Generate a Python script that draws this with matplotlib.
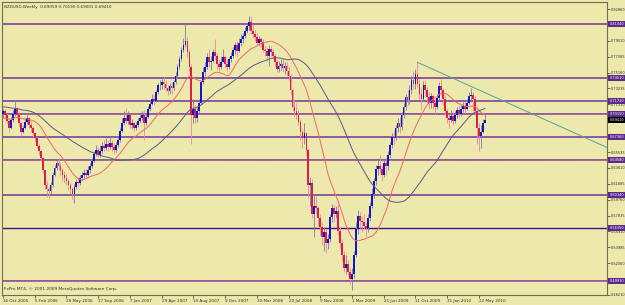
import numpy as np
import pandas as pd
import matplotlib.pyplot as plt

plt.rcParams["font.family"] = "DejaVu Sans"

# NZDUSD weekly bars starting 16 Oct 2005, prices in pips (x 1e-4)
opens = [
    7020, 7050, 7000, 6930, 6850, 6940, 7010, 7080, 7000, 6900, 6800, 6850,
    6920, 6960, 6880, 6840, 6780, 6720, 6630, 6560, 6480, 6330, 6150, 6100,
    6080, 6150, 6280, 6360, 6420, 6390, 6330, 6280, 6240, 6200, 6150, 6110,
    6050, 6130, 6190, 6180, 6240, 6270, 6300, 6280, 6340, 6380, 6440, 6530,
    6580, 6520, 6560, 6630, 6600, 6650, 6610, 6660, 6620, 6580, 6640, 6700,
    6810, 6900, 6970, 6930, 7000, 6880, 6900, 6850, 6880, 6930, 6960, 7000,
    6910, 6980, 7070, 7140, 7200, 7170, 7280, 7360, 7360, 7400, 7380, 7330,
    7290, 7350, 7330, 7400, 7470, 7580, 7680, 7790, 7850, 7900, 7760, 7580,
    7000, 7080, 6960, 7050, 7150, 7400, 7520, 7580, 7700, 7640, 7660, 7760,
    7720, 7620, 7580, 7650, 7700, 7620, 7580, 7680, 7720, 7790, 7850, 7780,
    7880, 7920, 7960, 8020, 8080, 8130, 8020, 7980, 7950, 7880, 7920, 7890,
    7790, 7780, 7720, 7800, 7760, 7720, 7640, 7560, 7600, 7620, 7570, 7600,
    7530, 7480, 7300, 7100, 7050, 7000, 6920, 6800, 6720, 6780, 6580, 6150,
    6180, 5800, 5900, 5870, 5750, 5650, 5520, 5580, 5450, 5500, 5760, 5880,
    5800, 5840, 5600, 5450, 5300, 5150, 5200, 5100, 5020, 5080, 5300, 5620,
    5780, 5720, 5700, 5660, 5630, 5750, 5900, 6050, 6200, 6350, 6380, 6350,
    6280, 6420, 6380, 6520, 6640, 6740, 6720, 6840, 6900, 6860, 7000, 7100,
    7220, 7180, 7300, 7430, 7380, 7500, 7380, 7260, 7200, 7360, 7300, 7220,
    7150, 7230, 7150, 7100, 7210, 7350, 7300, 7200, 7050, 6970, 6940, 6990,
    6930, 7000, 7060, 7020, 7080, 7110, 7080, 7150, 7230, 7240, 7200, 7050,
    6850, 6750, 6800, 6906,
]
highs = [
    7080, 7070, 7010, 6950, 6980, 7060, 7180, 7100, 7010, 6920, 6880, 6960,
    7000, 6980, 6930, 6870, 6800, 6730, 6650, 6580, 6490, 6340, 6200, 6130,
    6190, 6310, 6400, 6470, 6480, 6420, 6360, 6320, 6290, 6230, 6180, 6130,
    6160, 6230, 6250, 6270, 6310, 6350, 6350, 6380, 6420, 6480, 6570, 6640,
    6620, 6640, 6680, 6700, 6720, 6700, 6730, 6700, 6660, 6680, 6740, 6850,
    6960, 7050, 7090, 7050, 7010, 6950, 6930, 6920, 6970, 7000, 7050, 7060,
    7010, 7110, 7180, 7260, 7250, 7310, 7390, 7420, 7440, 7460, 7420, 7370,
    7390, 7400, 7430, 7520, 7620, 7720, 7830, 7930, 8110, 7950, 7800, 7620,
    7200, 7120, 7100, 7200, 7430, 7580, 7640, 7750, 7800, 7720, 7800, 7920,
    7750, 7680, 7720, 7800, 7730, 7680, 7710, 7760, 7830, 7890, 7900, 7930,
    7980, 8000, 8070, 8120, 8200, 8200, 8100, 8030, 8000, 7960, 7950, 7920,
    7840, 7820, 7850, 7840, 7800, 7740, 7680, 7660, 7680, 7680, 7650, 7640,
    7600, 7500, 7320, 7200, 7150, 7060, 6950, 6830, 6900, 6800, 6600, 6250,
    6230, 6050, 6020, 5900, 5800, 5700, 5640, 5620, 5560, 5800, 5920, 5910,
    5900, 5920, 5650, 5500, 5350, 5300, 5250, 5150, 5150, 5350, 5700, 5850,
    5830, 5780, 5800, 5700, 5800, 5950, 6120, 6240, 6400, 6460, 6520, 6400,
    6460, 6480, 6560, 6680, 6780, 6820, 6880, 6960, 6980, 7040, 7150, 7260,
    7300, 7360, 7480, 7540, 7560, 7640, 7440, 7330, 7410, 7420, 7340, 7280,
    7270, 7250, 7200, 7260, 7400, 7440, 7330, 7240, 7080, 7020, 7060, 7030,
    7050, 7100, 7120, 7120, 7160, 7170, 7200, 7280, 7330, 7280, 7230, 7080,
    6900, 6880, 6950, 7019,
]
lows = [
    6960, 6970, 6900, 6790, 6830, 6920, 6990, 6970, 6860, 6750, 6780, 6830,
    6890, 6850, 6800, 6740, 6680, 6600, 6520, 6450, 6300, 6100, 6010, 5990,
    6050, 6130, 6260, 6340, 6330, 6270, 6200, 6180, 6150, 6090, 6050, 5990,
    5930, 6100, 6130, 6150, 6200, 6240, 6230, 6260, 6300, 6360, 6430, 6500,
    6490, 6490, 6540, 6560, 6580, 6570, 6590, 6560, 6540, 6550, 6610, 6680,
    6790, 6880, 6900, 6890, 6850, 6830, 6810, 6820, 6860, 6900, 6940, 6700,
    6880, 6960, 7050, 7120, 7120, 7160, 7260, 7300, 7320, 7320, 7290, 7250,
    7260, 7260, 7300, 7380, 7450, 7560, 7660, 7760, 7830, 7700, 7520, 6650,
    6900, 6900, 6920, 7020, 7140, 7380, 7470, 7560, 7580, 7550, 7640, 7680,
    7560, 7530, 7560, 7640, 7570, 7540, 7560, 7640, 7690, 7740, 7700, 7760,
    7840, 7880, 7930, 7990, 8030, 7980, 7930, 7900, 7850, 7840, 7820, 7760,
    7720, 7660, 7600, 7720, 7680, 7580, 7520, 7520, 7550, 7520, 7500, 7480,
    7420, 7250, 7050, 6980, 6950, 6880, 6700, 6600, 6650, 6520, 6000, 5900,
    5750, 5520, 5800, 5660, 5550, 5430, 5350, 5330, 5380, 5460, 5700, 5700,
    5750, 5550, 5380, 5230, 5100, 5080, 5050, 4950, 4885, 5030, 5280, 5560,
    5620, 5580, 5620, 5530, 5580, 5720, 5880, 6000, 6150, 6280, 6300, 6200,
    6250, 6280, 6330, 6480, 6600, 6640, 6700, 6800, 6780, 6820, 6960, 7060,
    7120, 7140, 7260, 7320, 7320, 7340, 7200, 7060, 7170, 7250, 7120, 7080,
    7090, 7080, 7020, 7080, 7180, 7250, 7120, 7000, 6900, 6850, 6920, 6880,
    6900, 6960, 6980, 6990, 7040, 7030, 7060, 7130, 7180, 7050, 7000, 6650,
    6570, 6600, 6780, 6900,
]
closes = [
    7050, 7000, 6930, 6850, 6940, 7010, 7080, 7000, 6900, 6800, 6850, 6920,
    6960, 6880, 6840, 6780, 6720, 6630, 6560, 6480, 6330, 6150, 6100, 6080,
    6150, 6280, 6360, 6420, 6390, 6330, 6280, 6240, 6200, 6150, 6110, 6050,
    6130, 6190, 6180, 6240, 6270, 6300, 6280, 6340, 6380, 6440, 6530, 6580,
    6520, 6560, 6630, 6600, 6650, 6610, 6660, 6620, 6580, 6640, 6700, 6810,
    6900, 6970, 6930, 7000, 6880, 6900, 6850, 6880, 6930, 6960, 7000, 6910,
    6980, 7070, 7140, 7200, 7170, 7280, 7360, 7360, 7400, 7380, 7330, 7290,
    7350, 7330, 7400, 7470, 7580, 7680, 7790, 7850, 7900, 7760, 7580, 7000,
    7080, 6960, 7050, 7150, 7400, 7520, 7580, 7700, 7640, 7660, 7760, 7720,
    7620, 7580, 7650, 7700, 7620, 7580, 7680, 7720, 7790, 7850, 7780, 7880,
    7920, 7960, 8020, 8080, 8130, 8020, 7980, 7950, 7880, 7920, 7890, 7790,
    7780, 7720, 7800, 7760, 7720, 7640, 7560, 7600, 7620, 7570, 7600, 7530,
    7480, 7300, 7100, 7050, 7000, 6920, 6800, 6720, 6780, 6580, 6150, 6180,
    5800, 5900, 5870, 5750, 5650, 5520, 5580, 5450, 5500, 5760, 5880, 5800,
    5840, 5600, 5450, 5300, 5150, 5200, 5100, 5020, 5080, 5300, 5620, 5780,
    5720, 5700, 5660, 5630, 5750, 5900, 6050, 6200, 6350, 6380, 6350, 6280,
    6420, 6380, 6520, 6640, 6740, 6720, 6840, 6900, 6860, 7000, 7100, 7220,
    7180, 7300, 7430, 7380, 7500, 7380, 7260, 7200, 7360, 7300, 7220, 7150,
    7230, 7150, 7100, 7210, 7350, 7300, 7200, 7050, 6970, 6940, 6990, 6930,
    7000, 7060, 7020, 7080, 7110, 7080, 7150, 7230, 7240, 7200, 7050, 6850,
    6750, 6800, 6906, 6941,
]
# closes before the visible window (Nov 2004 - Oct 2005), only feed the MAs
warmup_closes = [
    7000, 7050, 7120, 7150, 7180, 7100, 7150, 7200, 7180, 7080, 7050, 7100,
    7130, 7150, 7220, 7250, 7300, 7380, 7420, 7350, 7250, 7200, 7280, 7250,
    7300, 7260, 7200, 7150, 7100, 7080, 7050, 7020, 7000, 6980, 6880, 6850,
    6920, 6900, 6980, 7000, 6950, 6920, 6980, 7020, 6950, 6920, 6980, 6960,
    7020,
]

date_bars = [0, 16, 32, 48, 64, 80, 96, 112, 128, 144, 160, 176, 192, 208, 224, 240]
date_labels = ["16 Oct 2005", "5 Feb 2006", "28 May 2006", "17 Sep 2006",
               "7 Jan 2007", "29 Apr 2007", "19 Aug 2007", "9 Dec 2007",
               "30 Mar 2008", "20 Jul 2008", "9 Nov 2008", "1 Mar 2009",
               "21 Jun 2009", "11 Oct 2009", "31 Jan 2010", "22 May 2010"]

price_ticks = [0.82860, 0.80935, 0.79010, 0.77085, 0.75160, 0.73235, 0.71310,
               0.69385, 0.67460, 0.65535, 0.63610, 0.61685, 0.59760, 0.57835,
               0.55910, 0.53985, 0.52060, 0.50135, 0.48210]

levels = [0.81040, 0.74510, 0.71720, 0.70150, 0.67360, 0.64580, 0.60340, 0.56350, 0.49930]
level_kind = ["p", "p", "p", "pink", "p", "pink", "p", "dark", "pink"]

trend_bars = [209, 305]
trend_prices = [0.7640, 0.6604]

last_price = 0.69410
header = "NZDUSD,Weekly  0.69059 0.70190 0.69001 0.69410"
footer = "FxPro MT4, \u00a9 2001-2009 MetaQuotes Software Corp."

BG = "#EDE8AC"
UP = "#1414C8"
DN = "#DC1E4A"
TXT = "#303030"

o = np.array(opens) / 1e4
h = np.array(highs) / 1e4
l = np.array(lows) / 1e4
c = np.array(closes) / 1e4
x = np.arange(len(c))

allc = pd.Series(warmup_closes + closes) / 1e4
ma20 = allc.rolling(20).mean().values[len(warmup_closes):]
ma50 = allc.rolling(50).mean().values[len(warmup_closes):]

fig = plt.figure(figsize=(6.25, 3.05), dpi=100)
fig.patch.set_facecolor(BG)
ax = fig.add_axes([2 / 625, 10 / 305, 605 / 625, 293 / 305])
ax.set_facecolor(BG)
ax.set_xlim(-0.5, 304.6)
ax.set_ylim(0.4823, 0.8371)

# support / resistance levels
for lv, kind in zip(levels, level_kind):
    if kind == "dark":
        ax.axhline(lv, color="#4B0C8C", lw=1.0, zorder=1)
    else:
        ax.axhline(lv, color="#8C5C9C", lw=1.4, zorder=1)
        if kind == "pink":
            ax.axhline(lv, color="#E87A8A", lw=0.5, ls=(0, (1, 1)), zorder=1)

# candles
up = c >= o
wick_col = np.where(up, "#7C7CA4", "#E58A9C")
ax.vlines(x, l, h, colors=wick_col, lw=0.6, zorder=2)
body_lo = np.minimum(o, c)
body_h = np.maximum(np.abs(c - o), 0.0008)
ax.bar(x[up], body_h[up], bottom=body_lo[up], width=0.88, color=UP, lw=0, zorder=3)
ax.bar(x[~up], body_h[~up], bottom=body_lo[~up], width=0.88, color=DN, lw=0, zorder=3)

# moving averages
ax.plot(x, ma20, color="#EE6A6A", lw=0.7, zorder=4)
ax.plot(x, ma50, color="#5A5A86", lw=0.7, zorder=4)

# trendline
ax.plot(trend_bars, trend_prices, color="#4FA89C", lw=0.7, zorder=4)

for s in ax.spines.values():
    s.set_color("#6E6E50")
    s.set_linewidth(0.8)

ax.yaxis.tick_right()
ax.set_yticks(price_ticks)
ax.set_yticklabels([f"{p:.5f}" for p in price_ticks])
ax.tick_params(axis="y", length=1.8, width=0.5, pad=1.0, labelsize=2.5,
               colors=TXT)

ax.set_xticks(date_bars)
ax.set_xticklabels(date_labels)
ax.tick_params(axis="x", length=2, width=0.5, pad=0.8, labelsize=3.0,
               colors=TXT)
for t in ax.get_xticklabels():
    t.set_horizontalalignment("left")

# level price boxes on the price scale
ytr = ax.get_yaxis_transform()
for lv in levels:
    ax.text(1.004, lv, f"{lv:.5f}", transform=ytr, fontsize=2.5, color="white",
            va="center", ha="left", zorder=6, clip_on=False,
            bbox=dict(boxstyle="square,pad=0.35", fc="#5C2A8C", ec="none"))
ax.text(1.004, last_price, f"{last_price:.5f}", transform=ytr, fontsize=2.5,
        color="white", va="center", ha="left", zorder=7, clip_on=False,
        bbox=dict(boxstyle="square,pad=0.35", fc="black", ec="none"))

ax.text(0.004, 0.99, header, transform=ax.transAxes, fontsize=3.0,
        color=TXT, va="top", ha="left")
ax.text(0.004, 0.012, footer, transform=ax.transAxes, fontsize=3.1,
        color=TXT, va="bottom", ha="left")

fig.savefig("out.png", dpi=100, facecolor=BG)
